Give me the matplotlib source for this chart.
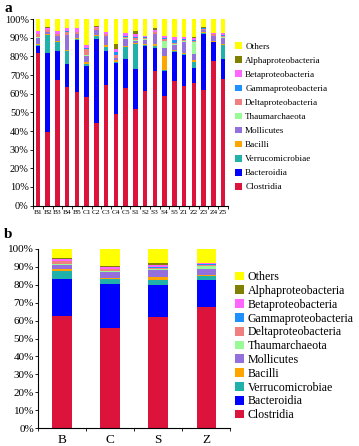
import numpy as np
import matplotlib
matplotlib.use("Agg")
import matplotlib.pyplot as plt
from matplotlib.patches import Patch
from matplotlib.ticker import PercentFormatter

plt.rcParams['font.family'] = ['Liberation Serif', 'DejaVu Serif']

# taxa, bottom to top of the stack
taxa = ["Clostridia", "Bacteroidia", "Verrucomicrobiae", "Bacilli", "Mollicutes",
        "Thaumarchaeota", "Deltaproteobacteria", "Gammaproteobacteria",
        "Betaproteobacteria", "Alphaproteobacteria", "Others"]
colors = ["#DC143C", "#0000FF", "#20B2AA", "#FFA500", "#9370DB",
          "#98FB98", "#F08080", "#1E90FF", "#FF66FF", "#808000", "#FFFF00"]

# panel a: individual samples (%)
samples = ["B1", "B2", "B3", "B4", "B5", "C1", "C2", "C3", "C4", "C5",
           "S1", "S2", "S3", "S4", "S5", "Z1", "Z2", "Z3", "Z4", "Z5"]
clostridia_a = [82, 39.5, 67.5, 63.5, 61, 58.5, 44.5, 64.5, 49, 63, 52, 61.5, 72, 59, 67, 64, 65.5, 62, 77.5, 68]
bacteroidia_a = [3.5, 42.5, 15.5, 12.5, 28, 16.5, 45, 18.5, 27.5, 15.5, 21.5, 24, 12.5, 13, 15.5, 17, 8.5, 30, 10, 10.5]
verruco_a = [0.5, 9.5, 5, 7, 0.5, 1, 1.5, 2, 0.5, 6.5, 13, 0.5, 1, 0.5, 0.5, 0.5, 3, 0.5, 0.5, 7.5]
bacilli_a = [0.5, 0.5, 0.5, 0.5, 0.5, 1, 0.5, 1, 1, 0.5, 0.5, 0.5, 1, 8, 0.5, 0.5, 1, 0.5, 0.5, 0.5]
mollicutes_a = [3.5, 1, 2.5, 8, 2, 3.5, 2.5, 5, 1, 4, 1.5, 2.5, 5.5, 4, 2.5, 6, 3.5, 1, 2.5, 3.5]
thaum_a = [0.3, 0.2, 0.2, 0.2, 0.2, 0.3, 0.2, 0.2, 0.3, 0.2, 0.2, 0.2, 0.2, 4, 0.5, 0.2, 6, 0.2, 0.2, 0.2]
delta_a = [1.7, 0.8, 0.8, 1.3, 0.8, 3.2, 0.8, 0.8, 1.7, 0.8, 1.3, 0.8, 0.8, 1, 0.5, 0.8, 1, 0.3, 0.8, 0.8]
gamma_a = [0.3, 0.3, 0.3, 0.5, 0.3, 0.3, 0.3, 0.3, 1.5, 0.3, 0.3, 0.3, 0.3, 0.5, 2, 0.3, 0.3, 0.5, 0.3, 0.3]
beta_a = [1.2, 1.2, 1.2, 1.5, 1.7, 1.7, 0.7, 0.7, 1.5, 1.7, 1.7, 0.7, 0.7, 1, 1.5, 1.2, 1.2, 0.5, 0.2, 1.2]
alpha_a = [0.2, 0.2, 0.2, 0.2, 0.2, 0.2, 0.2, 0.2, 2.5, 0.2, 1.5, 0.2, 1.5, 0.2, 0.2, 0.2, 0.2, 0.2, 0.2, 0.2]
others_a = [6.3, 4.3, 6.3, 4.8, 4.8, 13.8, 3.8, 6.8, 13.5, 7.3, 6.5, 8.8, 4.5, 8.8, 9.3, 9.3, 9.8, 4.3, 7.3, 7.3]

# panel b: group means (%)
groups = ["B", "C", "S", "Z"]
clostridia_b = [62.5, 56, 62, 67.5]
bacteroidia_b = [20.5, 24.5, 18, 15]
verruco_b = [4.5, 2.5, 2.5, 2.5]
bacilli_b = [1, 0.5, 2, 0.5]
mollicutes_b = [2.5, 3.5, 3.5, 3.5]
thaum_b = [0.5, 0.5, 1, 1.5]
delta_b = [1.5, 1, 0.5, 0.5]
gamma_b = [0.5, 0.5, 0.5, 0.5]
beta_b = [1, 1, 1, 0.5]
alpha_b = [0.5, 0.5, 1, 0.3]
others_b = [5, 9.5, 8, 7.7]

series_a = [clostridia_a, bacteroidia_a, verruco_a, bacilli_a, mollicutes_a,
            thaum_a, delta_a, gamma_a, beta_a, alpha_a, others_a]
series_b = [clostridia_b, bacteroidia_b, verruco_b, bacilli_b, mollicutes_b,
            thaum_b, delta_b, gamma_b, beta_b, alpha_b, others_b]

fig = plt.figure(figsize=(3.59, 4.46), dpi=100)
ax_a = fig.add_axes([0.092, 0.539, 0.543, 0.418])
ax_b = fig.add_axes([0.106, 0.040, 0.535, 0.402])


def stack(ax, labels, series, width):
    x = np.arange(len(labels))
    bottom = np.zeros(len(labels))
    for vals, c in zip(series, colors):
        ax.bar(x, vals, width, bottom=bottom, color=c, linewidth=0)
        bottom += np.array(vals)
    ax.set_xlim(-0.5, len(labels) - 0.5)
    ax.set_ylim(0, 100)
    ax.set_yticks(np.arange(0, 101, 10))
    ax.yaxis.set_major_formatter(PercentFormatter(decimals=0))
    ax.set_xticks(x)
    ax.set_xticklabels(labels)
    # small ticks between the bars
    ax.set_xticks(np.arange(-0.5, len(labels), 1), minor=True)
    ax.tick_params(axis='x', which='major', length=0)
    ax.tick_params(axis='x', which='minor', length=2, width=0.6)
    ax.tick_params(axis='y', length=2, width=0.6)
    for s in ["top", "right"]:
        ax.spines[s].set_visible(False)
    for s in ["left", "bottom"]:
        ax.spines[s].set_linewidth(0.8)


stack(ax_a, samples, series_a, 0.47)
ax_a.tick_params(axis='x', labelsize=5.3, pad=3)
ax_a.tick_params(axis='y', labelsize=7.5, pad=1)

stack(ax_b, groups, series_b, 0.4)
ax_b.tick_params(axis='x', labelsize=9.5, pad=4)
ax_b.tick_params(axis='y', labelsize=8, pad=1)

handles = [Patch(facecolor=c, edgecolor='none') for c in colors][::-1]
names = taxa[::-1]
fig.legend(handles, names, loc='upper left', bbox_to_anchor=(0.655, 0.905),
           frameon=False, fontsize=6.6, handlelength=0.75, handleheight=0.75,
           handletextpad=0.35, labelspacing=0.6, borderpad=0, borderaxespad=0)
fig.legend(handles, names, loc='upper left', bbox_to_anchor=(0.655, 0.392),
           frameon=False, fontsize=8.6, handlelength=0.75, handleheight=0.75,
           handletextpad=0.3, labelspacing=0.15, borderpad=0, borderaxespad=0)

fig.text(0.012, 0.995, "a", fontsize=11, fontweight='bold', va='top')
fig.text(0.012, 0.488, "b", fontsize=11, fontweight='bold', va='top')

fig.savefig("out.png", dpi=100)
